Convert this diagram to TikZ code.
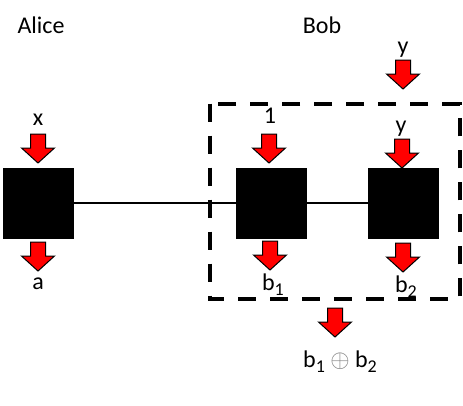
\documentclass[tikz,border=0pt]{standalone}
\usepackage{fontspec}
\setmainfont{Carlito}
\newcommand\lowidx[1]{\raisebox{-5pt}{\fontsize{18}{20}\selectfont #1}}
\tikzset{
    party/.style={draw=black, fill=black, minimum size=70pt, inner sep=0pt},
    lbl/.style={font=\fontsize{24}{28}\selectfont, inner sep=0pt, anchor=base},
    redarrow/.pic={
        \filldraw[fill=red, draw=black, line width=1pt, line join=miter]
            (-7.5,0) -- (7.5,0) -- (7.5,14) -- (16.5,14) -- (0,29)
            -- (-16.5,14) -- (-7.5,14) -- cycle;
    }
}
\begin{document}
\begin{tikzpicture}[x=1pt, y=-1pt]
    \useasboundingbox (0,0) rectangle (463,405);
    % the three boxes
    \node[party] (alice) at (38,203) {};
    \node[party] (bobA) at (271,203) {};
    \node[party] (bobB) at (403,203) {};
    \draw[line width=2.5pt] (alice) -- (bobA) (bobA) -- (bobB);
    % Bob's box
    \draw[line width=4pt, dash pattern=on 18pt off 14pt]
        (209.5,103.7) rectangle (459.5,299);
    % inputs and outputs
    \foreach \x/\y in {38/134, 38/242, 269/134, 402/139, 403/60,
                       270/241, 403/243, 335/308} {
        \pic at (\x,\y) {redarrow};
    }
    \node[lbl] (alicelbl) at (41,33) {Alice};
    \node[lbl] (boblbl) at (322,33) {Bob};
    \node[lbl] (xin) at (38,125) {x};
    \node[lbl] (aout) at (38,289) {a};
    \node[lbl] (onein) at (270,123) {1};
    \node[lbl] (yin) at (401,132) {y};
    \node[lbl] (ytop) at (403,53) {y};
    \node[lbl] (bone) at (273,290) {b\lowidx{1}};
    \node[lbl] (btwo) at (406,292) {b\lowidx{2}};
    \node[lbl] (bsum) at (340,367)
        {b\lowidx{1} {\color{gray}$\oplus$} b\lowidx{2}};
\end{tikzpicture}
\end{document}
